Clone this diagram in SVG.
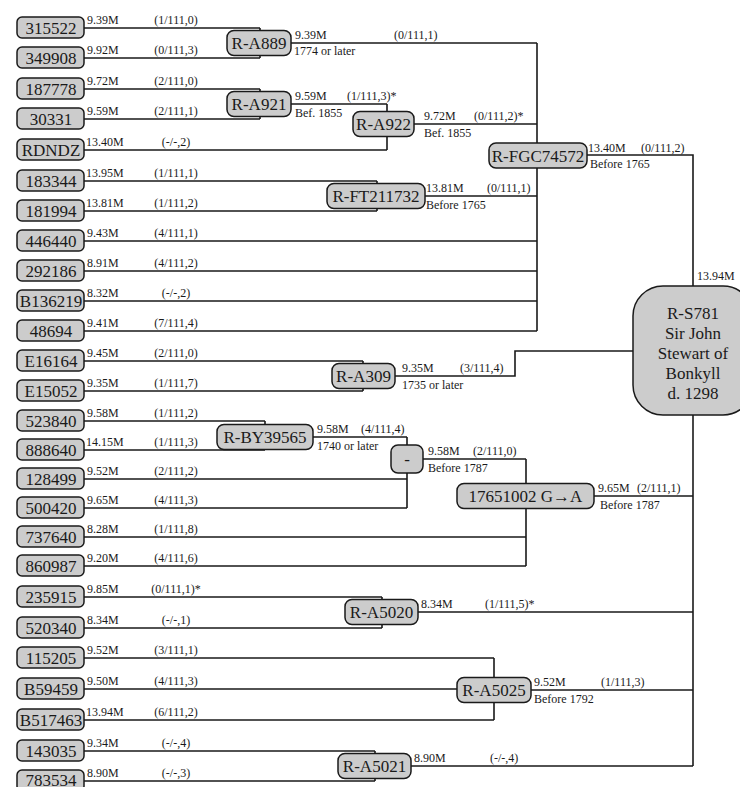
<svg xmlns="http://www.w3.org/2000/svg" width="740" height="787" viewBox="0 0 740 787">
<style>
.bg{fill:#fff}
.nd{fill:#cccccc;stroke:#1a1a1a;stroke-width:1.5}
.nt{font-family:"Liberation Serif","Times New Roman","DejaVu Serif",serif;font-size:17px;fill:#1a1a1a;text-anchor:middle}
.lb{font-family:"Liberation Serif","Times New Roman","DejaVu Serif",serif;font-size:12px;fill:#1a1a1a}
.lc{font-family:"Liberation Serif","Times New Roman","DejaVu Serif",serif;font-size:12px;fill:#1a1a1a;text-anchor:middle}
.cn{fill:none;stroke:#1a1a1a;stroke-width:1.6}
</style>
<rect class="bg" x="0" y="0" width="740" height="787"/>
<g id="connectors" class="cn">
<path d="M84,28H260M84,58H260M84,89H260M84,119H260M84,150H387M84,181H377M84,211H377M84,241H537M84,271H537M84,301H537M84,331H537M84,361H363M84,391H363M84,421H265M84,450H265M84,479H407M84,508H407M84,537H526M84,566H526M84,597H382M84,628H382M84,658H494M84,689H494M84,720H494M84,751H375M84,781H375"/>
<path d="M260,28V58M291,43H537"/>
<path d="M260,89V119M291,104H387"/>
<path d="M387,104V150M414,124H537"/>
<path d="M377,181V211M425,196H537"/>
<path d="M537,43V331M587,155H693V286"/>
<path d="M363,361V391M395,376H515V351H633"/>
<path d="M265,421V450M313,437H407"/>
<path d="M407,437V508M423,459H526"/>
<path d="M526,459V566M594,496H693"/>
<path d="M382,597V628M418,612H693"/>
<path d="M494,658V720M531,690H693"/>
<path d="M375,751V781M411,766H693"/>
<path d="M693,415V766"/>
</g>
<g id="leaf-labels">
<text class="lb" x="87" y="24">9.39M</text><text class="lc" x="176" y="24">(1/111,0)</text>
<text class="lb" x="87" y="54">9.92M</text><text class="lc" x="176" y="54">(0/111,3)</text>
<text class="lb" x="87" y="85">9.72M</text><text class="lc" x="176" y="85">(2/111,0)</text>
<text class="lb" x="87" y="115">9.59M</text><text class="lc" x="176" y="115">(2/111,1)</text>
<text class="lb" x="86" y="146">13.40M</text><text class="lc" x="176" y="146">(-/-,2)</text>
<text class="lb" x="86" y="177">13.95M</text><text class="lc" x="176" y="177">(1/111,1)</text>
<text class="lb" x="86" y="207">13.81M</text><text class="lc" x="176" y="207">(1/111,2)</text>
<text class="lb" x="87" y="237">9.43M</text><text class="lc" x="176" y="237">(4/111,1)</text>
<text class="lb" x="87" y="267">8.91M</text><text class="lc" x="176" y="267">(4/111,2)</text>
<text class="lb" x="87" y="297">8.32M</text><text class="lc" x="176" y="297">(-/-,2)</text>
<text class="lb" x="87" y="327">9.41M</text><text class="lc" x="176" y="327">(7/111,4)</text>
<text class="lb" x="87" y="357">9.45M</text><text class="lc" x="176" y="357">(2/111,0)</text>
<text class="lb" x="87" y="387">9.35M</text><text class="lc" x="176" y="387">(1/111,7)</text>
<text class="lb" x="87" y="417">9.58M</text><text class="lc" x="176" y="417">(1/111,2)</text>
<text class="lb" x="86" y="446">14.15M</text><text class="lc" x="176" y="446">(1/111,3)</text>
<text class="lb" x="87" y="475">9.52M</text><text class="lc" x="176" y="475">(2/111,2)</text>
<text class="lb" x="87" y="504">9.65M</text><text class="lc" x="176" y="504">(4/111,3)</text>
<text class="lb" x="87" y="533">8.28M</text><text class="lc" x="176" y="533">(1/111,8)</text>
<text class="lb" x="87" y="562">9.20M</text><text class="lc" x="176" y="562">(4/111,6)</text>
<text class="lb" x="87" y="593">9.85M</text><text class="lc" x="176" y="593">(0/111,1)*</text>
<text class="lb" x="87" y="624">8.34M</text><text class="lc" x="176" y="624">(-/-,1)</text>
<text class="lb" x="87" y="654">9.52M</text><text class="lc" x="176" y="654">(3/111,1)</text>
<text class="lb" x="87" y="685">9.50M</text><text class="lc" x="176" y="685">(4/111,3)</text>
<text class="lb" x="86" y="716">13.94M</text><text class="lc" x="176" y="716">(6/111,2)</text>
<text class="lb" x="87" y="747">9.34M</text><text class="lc" x="176" y="747">(-/-,4)</text>
<text class="lb" x="87" y="777">8.90M</text><text class="lc" x="176" y="777">(-/-,3)</text>
</g>
<g id="leaf-315522"><rect class="nd" x="17" y="17" width="67" height="21" rx="5"/><text class="nt" x="51" y="34">315522</text></g>
<g id="leaf-349908"><rect class="nd" x="17" y="47" width="67" height="21" rx="5"/><text class="nt" x="51" y="64">349908</text></g>
<g id="leaf-187778"><rect class="nd" x="17" y="78" width="67" height="21" rx="5"/><text class="nt" x="51" y="95">187778</text></g>
<g id="leaf-30331"><rect class="nd" x="17" y="108" width="67" height="21" rx="5"/><text class="nt" x="51" y="125">30331</text></g>
<g id="leaf-RDNDZ"><rect class="nd" x="17" y="139" width="67" height="21" rx="5"/><text class="nt" x="51" y="156">RDNDZ</text></g>
<g id="leaf-183344"><rect class="nd" x="17" y="170" width="67" height="21" rx="5"/><text class="nt" x="51" y="187">183344</text></g>
<g id="leaf-181994"><rect class="nd" x="17" y="200" width="67" height="21" rx="5"/><text class="nt" x="51" y="217">181994</text></g>
<g id="leaf-446440"><rect class="nd" x="17" y="230" width="67" height="21" rx="5"/><text class="nt" x="51" y="247">446440</text></g>
<g id="leaf-292186"><rect class="nd" x="17" y="260" width="67" height="21" rx="5"/><text class="nt" x="51" y="277">292186</text></g>
<g id="leaf-B136219"><rect class="nd" x="17" y="290" width="67" height="21" rx="5"/><text class="nt" x="51" y="307">B136219</text></g>
<g id="leaf-48694"><rect class="nd" x="17" y="320" width="67" height="21" rx="5"/><text class="nt" x="51" y="337">48694</text></g>
<g id="leaf-E16164"><rect class="nd" x="17" y="350" width="67" height="21" rx="5"/><text class="nt" x="51" y="367">E16164</text></g>
<g id="leaf-E15052"><rect class="nd" x="17" y="380" width="67" height="21" rx="5"/><text class="nt" x="51" y="397">E15052</text></g>
<g id="leaf-523840"><rect class="nd" x="17" y="410" width="67" height="21" rx="5"/><text class="nt" x="51" y="427">523840</text></g>
<g id="leaf-888640"><rect class="nd" x="17" y="439" width="67" height="21" rx="5"/><text class="nt" x="51" y="456">888640</text></g>
<g id="leaf-128499"><rect class="nd" x="17" y="468" width="67" height="21" rx="5"/><text class="nt" x="51" y="485">128499</text></g>
<g id="leaf-500420"><rect class="nd" x="17" y="497" width="67" height="21" rx="5"/><text class="nt" x="51" y="514">500420</text></g>
<g id="leaf-737640"><rect class="nd" x="17" y="526" width="67" height="21" rx="5"/><text class="nt" x="51" y="543">737640</text></g>
<g id="leaf-860987"><rect class="nd" x="17" y="555" width="67" height="21" rx="5"/><text class="nt" x="51" y="572">860987</text></g>
<g id="leaf-235915"><rect class="nd" x="17" y="586" width="67" height="21" rx="5"/><text class="nt" x="51" y="603">235915</text></g>
<g id="leaf-520340"><rect class="nd" x="17" y="617" width="67" height="21" rx="5"/><text class="nt" x="51" y="634">520340</text></g>
<g id="leaf-115205"><rect class="nd" x="17" y="647" width="67" height="21" rx="5"/><text class="nt" x="51" y="664">115205</text></g>
<g id="leaf-B59459"><rect class="nd" x="17" y="678" width="67" height="21" rx="5"/><text class="nt" x="51" y="695">B59459</text></g>
<g id="leaf-B517463"><rect class="nd" x="17" y="709" width="67" height="21" rx="5"/><text class="nt" x="51" y="726">B517463</text></g>
<g id="leaf-143035"><rect class="nd" x="17" y="740" width="67" height="21" rx="5"/><text class="nt" x="51" y="757">143035</text></g>
<g id="leaf-783534"><rect class="nd" x="17" y="770" width="67" height="21" rx="5"/><text class="nt" x="51" y="786">783534</text></g>

<g id="R-A889"><rect class="nd" x="227" y="30.5" width="64" height="25" rx="7"/><text class="nt" x="259" y="49">R-A889</text>
<text class="lb" x="295" y="39">9.39M</text><text class="lb" x="394" y="39">(0/111,1)</text><text class="lb" x="294" y="55">1774 or later</text></g>
<g id="R-A921"><rect class="nd" x="227" y="91.5" width="64" height="25" rx="7"/><text class="nt" x="259" y="110">R-A921</text>
<text class="lb" x="295" y="100">9.59M</text><text class="lb" x="347" y="100">(1/111,3)*</text><text class="lb" x="295" y="116.5">Bef. 1855</text></g>
<g id="R-A922"><rect class="nd" x="353" y="111.5" width="61" height="25" rx="7"/><text class="nt" x="383.5" y="130">R-A922</text>
<text class="lb" x="424" y="120">9.72M</text><text class="lb" x="474" y="120">(0/111,2)*</text><text class="lb" x="424" y="136.5">Bef. 1855</text></g>
<g id="R-FT211732"><rect class="nd" x="327" y="183.5" width="98" height="25" rx="7"/><text class="nt" x="376" y="202">R-FT211732</text>
<text class="lb" x="426" y="192">13.81M</text><text class="lb" x="487" y="192">(0/111,1)</text><text class="lb" x="426" y="208.5">Before 1765</text></g>
<g id="R-FGC74572"><rect class="nd" x="489" y="143" width="98" height="25" rx="7"/><text class="nt" x="538" y="161.5">R-FGC74572</text>
<text class="lb" x="588" y="151.5">13.40M</text><text class="lb" x="641" y="151.5">(0/111,2)</text><text class="lb" x="590" y="168">Before 1765</text></g>
<g id="R-S781"><rect class="nd" x="633" y="286" width="120" height="129" rx="30"/>
<text class="nt" x="693" y="319">R-S781</text><text class="nt" x="693" y="339">Sir John</text><text class="nt" x="693" y="359">Stewart of</text><text class="nt" x="693" y="379">Bonkyll</text><text class="nt" x="693" y="399">d. 1298</text>
<text class="lb" x="697" y="280">13.94M</text></g>
<g id="R-A309"><rect class="nd" x="332" y="363.5" width="63" height="25" rx="7"/><text class="nt" x="363.5" y="382">R-A309</text>
<text class="lb" x="402" y="372">9.35M</text><text class="lb" x="460" y="372">(3/111,4)</text><text class="lb" x="402" y="388.5">1735 or later</text></g>
<g id="R-BY39565"><rect class="nd" x="217" y="424.5" width="96" height="25" rx="7"/><text class="nt" x="265" y="443">R-BY39565</text>
<text class="lb" x="317" y="433">9.58M</text><text class="lb" x="361" y="433">(4/111,4)</text><text class="lb" x="317" y="449.5">1740 or later</text></g>
<g id="dash"><rect class="nd" x="391" y="445" width="32" height="28" rx="7"/><text class="nt" x="407" y="465">-</text>
<text class="lb" x="428" y="455">9.58M</text><text class="lb" x="473" y="455">(2/111,0)</text><text class="lb" x="428" y="471.5">Before 1787</text></g>
<g id="n17651002"><rect class="nd" x="457" y="483.5" width="137" height="25" rx="7"/><text class="nt" x="525.5" y="502">17651002 G→A</text>
<text class="lb" x="598" y="492">9.65M</text><text class="lb" x="637" y="492">(2/111,1)</text><text class="lb" x="600" y="508.5">Before 1787</text></g>
<g id="R-A5020"><rect class="nd" x="345" y="599.5" width="73" height="25" rx="7"/><text class="nt" x="381.5" y="618">R-A5020</text>
<text class="lb" x="421" y="608">8.34M</text><text class="lb" x="485" y="608">(1/111,5)*</text></g>
<g id="R-A5025"><rect class="nd" x="457" y="677.5" width="74" height="25" rx="7"/><text class="nt" x="494" y="696">R-A5025</text>
<text class="lb" x="534" y="686">9.52M</text><text class="lb" x="601" y="686">(1/111,3)</text><text class="lb" x="534" y="702.5">Before 1792</text></g>
<g id="R-A5021"><rect class="nd" x="338" y="753.5" width="73" height="25" rx="7"/><text class="nt" x="374.5" y="772">R-A5021</text>
<text class="lb" x="414" y="762">8.90M</text><text class="lb" x="490" y="762">(-/-,4)</text></g>
</svg>
